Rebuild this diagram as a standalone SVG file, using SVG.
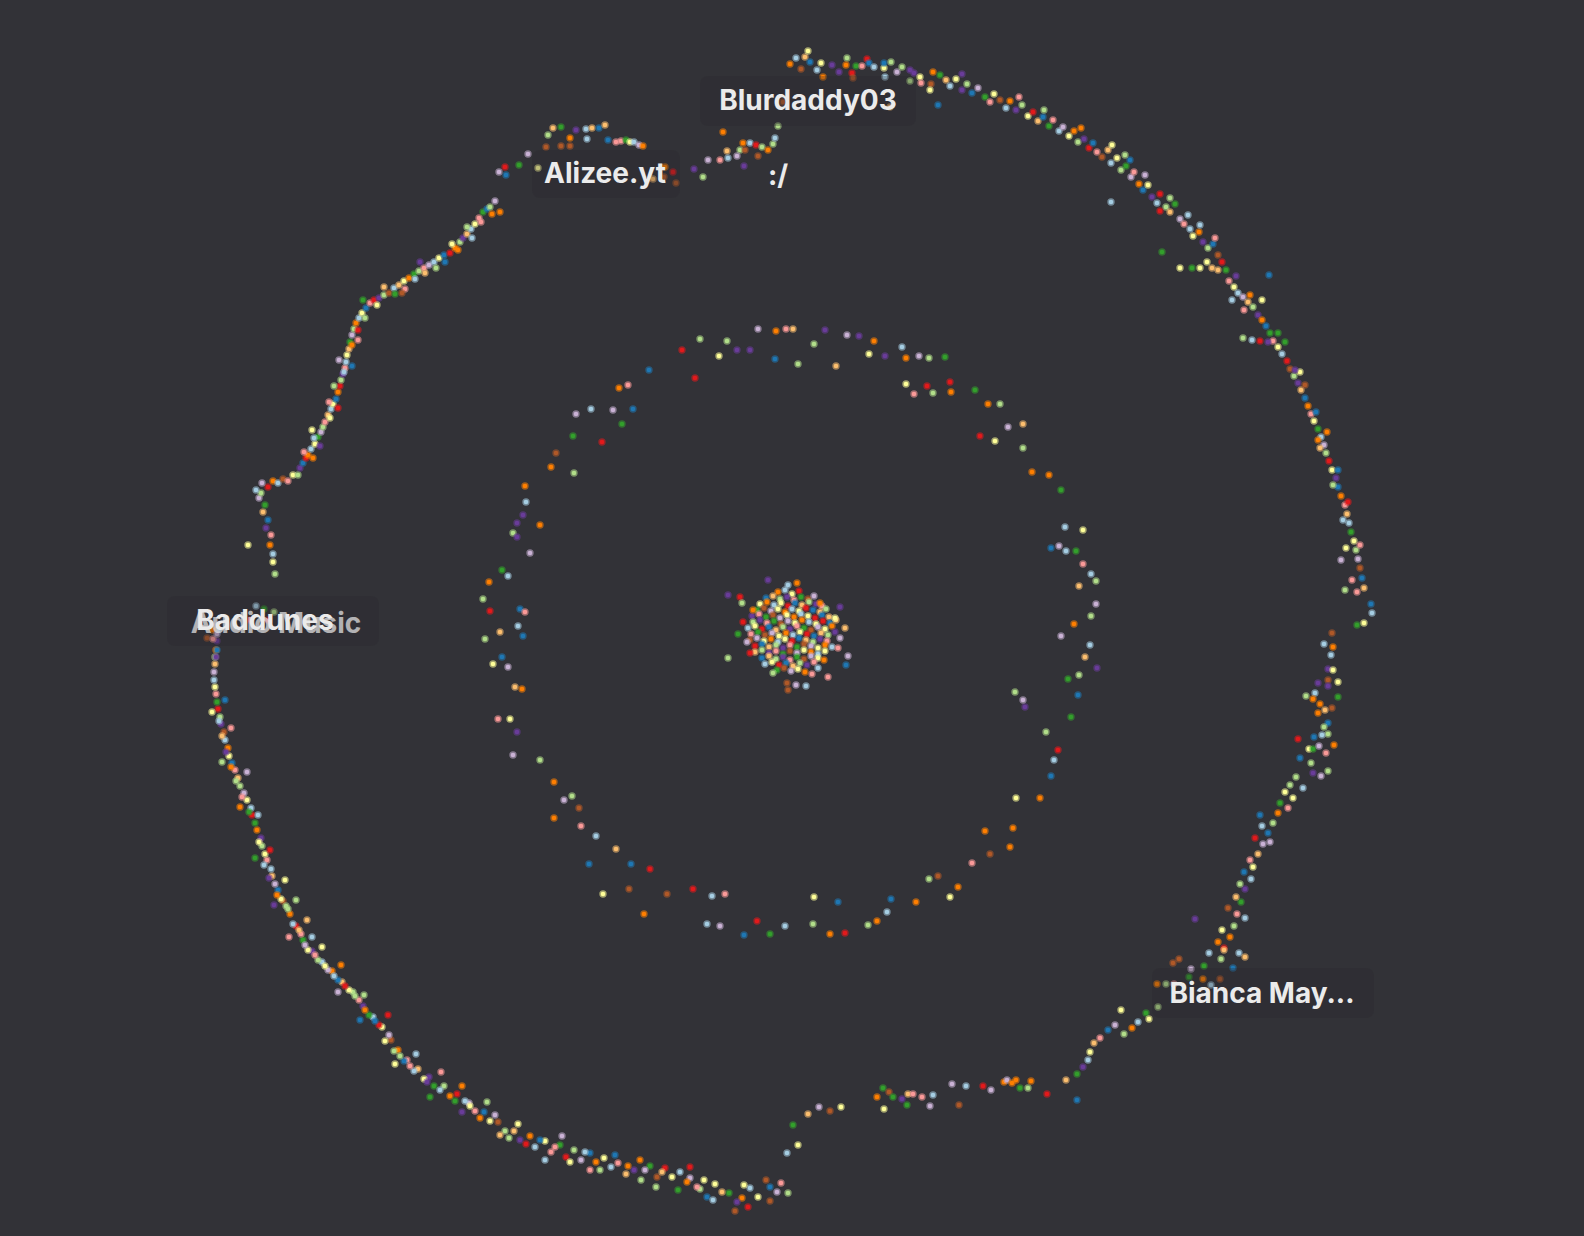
<svg xmlns="http://www.w3.org/2000/svg" width="1584" height="1236" viewBox="0 0 1584 1236">
<style>
circle{r:2.3px;stroke-width:2.8;stroke-opacity:.55}
.a{fill:#a6cee3;stroke:#a6cee3}.b{fill:#1f78b4;stroke:#1f78b4}.c{fill:#b2df8a;stroke:#b2df8a}.d{fill:#33a02c;stroke:#33a02c}
.e{fill:#fb9a99;stroke:#fb9a99}.f{fill:#e31a1c;stroke:#e31a1c}.g{fill:#fdbf6f;stroke:#fdbf6f}.h{fill:#ff7f00;stroke:#ff7f00}
.i{fill:#cab2d6;stroke:#cab2d6}.j{fill:#6a3d9a;stroke:#6a3d9a}.k{fill:#ffff99;stroke:#ffff99}.l{fill:#b15928;stroke:#b15928}
.lb{fill:#2a292e;opacity:.3}
text{font-family:Inter,"Liberation Sans",sans-serif;font-weight:700;font-size:28px;fill:#ebebeb;text-anchor:middle}
</style>
<rect width="1584" height="1236" fill="#323237"/>
<g id="connectors"/>
<g id="outer-ring">
<circle class="h" cx="790" cy="64"/><circle class="a" cx="796" cy="58"/><circle class="g" cx="805" cy="57"/><circle class="k" cx="808" cy="51"/><circle class="b" cx="810" cy="62"/><circle class="k" cx="821" cy="63"/><circle class="h" cx="823" cy="77"/><circle class="j" cx="832" cy="65"/><circle class="j" cx="839" cy="72"/><circle class="c" cx="847" cy="58"/><circle class="h" cx="846" cy="65"/><circle class="f" cx="852" cy="73"/><circle class="l" cx="853" cy="78"/><circle class="d" cx="856" cy="66"/><circle class="e" cx="862" cy="66"/><circle class="f" cx="867" cy="59"/><circle class="b" cx="869" cy="63"/><circle class="a" cx="874" cy="67"/><circle class="k" cx="884" cy="68"/><circle class="b" cx="884" cy="63"/><circle class="a" cx="885" cy="77"/><circle class="c" cx="891" cy="62"/><circle class="i" cx="897" cy="72"/><circle class="c" cx="902" cy="67"/><circle class="j" cx="910" cy="70"/><circle class="c" cx="910" cy="81"/><circle class="j" cx="914" cy="73"/><circle class="k" cx="920" cy="77"/><circle class="e" cx="921" cy="83"/><circle class="l" cx="931" cy="84"/><circle class="h" cx="933" cy="72"/><circle class="d" cx="940" cy="75"/><circle class="g" cx="946" cy="80"/><circle class="a" cx="950" cy="86"/><circle class="k" cx="956" cy="79"/><circle class="j" cx="962" cy="90"/><circle class="c" cx="967" cy="84"/><circle class="b" cx="972" cy="93"/><circle class="i" cx="978" cy="88"/><circle class="d" cx="985" cy="97"/><circle class="e" cx="990" cy="102"/><circle class="k" cx="994" cy="94"/><circle class="l" cx="1000" cy="100"/><circle class="a" cx="1006" cy="108"/><circle class="h" cx="1010" cy="101"/><circle class="j" cx="1016" cy="110"/><circle class="c" cx="1022" cy="105"/><circle class="k" cx="1028" cy="116"/><circle class="f" cx="1033" cy="112"/><circle class="g" cx="1038" cy="121"/><circle class="b" cx="1043" cy="117"/><circle class="d" cx="1049" cy="126"/><circle class="e" cx="1053" cy="120"/><circle class="a" cx="1059" cy="131"/><circle class="i" cx="1063" cy="127"/><circle class="k" cx="1069" cy="136"/><circle class="h" cx="1074" cy="131"/><circle class="c" cx="1078" cy="142"/><circle class="j" cx="1084" cy="139"/><circle class="f" cx="1089" cy="148"/><circle class="b" cx="1093" cy="143"/><circle class="e" cx="1097" cy="152"/><circle class="l" cx="1102" cy="157"/><circle class="g" cx="1108" cy="150"/><circle class="a" cx="1111" cy="163"/><circle class="k" cx="1117" cy="158"/><circle class="c" cx="1121" cy="170"/><circle class="d" cx="1126" cy="166"/><circle class="i" cx="1131" cy="177"/><circle class="e" cx="1134" cy="172"/><circle class="h" cx="1139" cy="184"/><circle class="b" cx="1143" cy="190"/><circle class="k" cx="1148" cy="185"/><circle class="j" cx="1152" cy="197"/><circle class="a" cx="1157" cy="203"/><circle class="f" cx="1160" cy="194"/><circle class="c" cx="1166" cy="207"/><circle class="g" cx="1170" cy="212"/><circle class="d" cx="1175" cy="204"/><circle class="i" cx="1180" cy="219"/><circle class="e" cx="1184" cy="224"/><circle class="a" cx="1190" cy="229"/><circle class="k" cx="1193" cy="236"/><circle class="h" cx="1199" cy="232"/><circle class="j" cx="1203" cy="242"/><circle class="c" cx="1208" cy="248"/><circle class="b" cx="1213" cy="244"/><circle class="l" cx="1218" cy="255"/><circle class="f" cx="1222" cy="262"/><circle class="d" cx="1226" cy="270"/><circle class="e" cx="1229" cy="281"/><circle class="k" cx="1234" cy="287"/><circle class="a" cx="1238" cy="293"/><circle class="i" cx="1243" cy="297"/><circle class="g" cx="1248" cy="302"/><circle class="c" cx="1253" cy="307"/><circle class="j" cx="1258" cy="315"/><circle class="h" cx="1262" cy="320"/><circle class="b" cx="1266" cy="326"/><circle class="d" cx="1270" cy="333"/><circle class="e" cx="1273" cy="341"/><circle class="k" cx="1278" cy="347"/><circle class="a" cx="1282" cy="354"/><circle class="f" cx="1287" cy="361"/><circle class="l" cx="1290" cy="369"/><circle class="c" cx="1294" cy="376"/><circle class="j" cx="1298" cy="383"/><circle class="g" cx="1301" cy="390"/><circle class="b" cx="1305" cy="398"/><circle class="h" cx="1308" cy="406"/><circle class="e" cx="1311" cy="414"/><circle class="k" cx="1314" cy="421"/><circle class="d" cx="1318" cy="429"/><circle class="a" cx="1321" cy="437"/><circle class="i" cx="1324" cy="445"/><circle class="c" cx="1326" cy="453"/><circle class="f" cx="1329" cy="461"/><circle class="k" cx="1332" cy="470"/><circle class="j" cx="1336" cy="478"/><circle class="b" cx="1338" cy="487"/><circle class="h" cx="1341" cy="496"/><circle class="e" cx="1345" cy="505"/><circle class="g" cx="1347" cy="514"/><circle class="a" cx="1349" cy="523"/><circle class="d" cx="1351" cy="532"/><circle class="k" cx="1354" cy="541"/><circle class="c" cx="1356" cy="550"/><circle class="i" cx="1358" cy="559"/><circle class="l" cx="1360" cy="568"/><circle class="b" cx="1362" cy="578"/>
<circle class="c" cx="1044" cy="110"/><circle class="k" cx="1112" cy="145"/><circle class="f" cx="1160" cy="211"/><circle class="a" cx="1200" cy="225"/><circle class="e" cx="1215" cy="238"/><circle class="j" cx="1236" cy="276"/><circle class="h" cx="1250" cy="295"/><circle class="d" cx="1285" cy="342"/><circle class="k" cx="1300" cy="372"/><circle class="b" cx="1316" cy="412"/><circle class="g" cx="1320" cy="448"/><circle class="c" cx="1333" cy="485"/><circle class="a" cx="1343" cy="520"/><circle class="k" cx="1346" cy="548"/><circle class="e" cx="1352" cy="580"/><circle class="i" cx="1341" cy="560"/><circle class="f" cx="1348" cy="502"/><circle class="h" cx="1327" cy="432"/><circle class="l" cx="1305" cy="385"/><circle class="d" cx="1278" cy="333"/><circle class="a" cx="1232" cy="300"/><circle class="k" cx="1207" cy="262"/><circle class="c" cx="1170" cy="198"/><circle class="b" cx="1130" cy="160"/><circle class="h" cx="1081" cy="128"/><circle class="e" cx="1019" cy="97"/><circle class="j" cx="962" cy="74"/><circle class="k" cx="930" cy="90"/><circle class="a" cx="817" cy="70"/><circle class="l" cx="801" cy="69"/><circle class="b" cx="938" cy="105"/><circle class="l" cx="783" cy="102"/><circle class="g" cx="890" cy="107"/>
<circle class="c" cx="1125" cy="155"/><circle class="i" cx="1145" cy="175"/><circle class="a" cx="1188" cy="215"/><circle class="g" cx="1218" cy="270"/><circle class="e" cx="1244" cy="310"/><circle class="k" cx="1262" cy="300"/><circle class="j" cx="1295" cy="370"/><circle class="h" cx="1318" cy="440"/><circle class="b" cx="1338" cy="470"/><circle class="e" cx="1360" cy="545"/><circle class="c" cx="1345" cy="590"/>
<circle class="c" cx="1243" cy="338"/><circle class="a" cx="1252" cy="340"/><circle class="f" cx="1260" cy="341"/><circle class="j" cx="1268" cy="342"/><circle class="k" cx="1180" cy="268"/><circle class="d" cx="1192" cy="268"/><circle class="k" cx="1200" cy="268"/><circle class="g" cx="1212" cy="268"/><circle class="a" cx="1111" cy="202"/><circle class="d" cx="1162" cy="252"/><circle class="b" cx="1269" cy="275"/>
<circle class="e" cx="1357" cy="592"/><circle class="g" cx="1364" cy="588"/><circle class="b" cx="1371" cy="604"/><circle class="a" cx="1372" cy="613"/><circle class="d" cx="1357" cy="625"/><circle class="k" cx="1364" cy="623"/><circle class="l" cx="1332" cy="633"/><circle class="a" cx="1324" cy="644"/><circle class="h" cx="1333" cy="647"/><circle class="a" cx="1331" cy="655"/><circle class="j" cx="1328" cy="669"/><circle class="k" cx="1333" cy="670"/><circle class="j" cx="1318" cy="683"/><circle class="l" cx="1328" cy="680"/><circle class="k" cx="1338" cy="682"/><circle class="j" cx="1328" cy="686"/><circle class="a" cx="1315" cy="693"/><circle class="c" cx="1306" cy="696"/><circle class="h" cx="1313" cy="699"/><circle class="h" cx="1320" cy="704"/><circle class="d" cx="1338" cy="697"/><circle class="l" cx="1332" cy="708"/><circle class="g" cx="1325" cy="710"/><circle class="h" cx="1318" cy="713"/><circle class="b" cx="1328" cy="723"/><circle class="c" cx="1324" cy="727"/><circle class="c" cx="1328" cy="734"/><circle class="a" cx="1322" cy="735"/><circle class="b" cx="1314" cy="737"/><circle class="f" cx="1298" cy="739"/><circle class="k" cx="1309" cy="749"/><circle class="d" cx="1313" cy="749"/><circle class="i" cx="1319" cy="746"/><circle class="h" cx="1334" cy="745"/><circle class="e" cx="1326" cy="753"/><circle class="b" cx="1300" cy="758"/><circle class="c" cx="1311" cy="763"/><circle class="j" cx="1313" cy="773"/><circle class="c" cx="1328" cy="771"/><circle class="i" cx="1321" cy="776"/><circle class="c" cx="1296" cy="777"/>
<circle class="a" cx="1303" cy="788"/><circle class="k" cx="1293" cy="798"/><circle class="e" cx="1288" cy="808"/><circle class="h" cx="1278" cy="813"/><circle class="c" cx="1273" cy="823"/><circle class="b" cx="1268" cy="833"/><circle class="i" cx="1263" cy="844"/><circle class="g" cx="1258" cy="854"/><circle class="k" cx="1253" cy="867"/><circle class="a" cx="1251" cy="879"/><circle class="j" cx="1245" cy="889"/><circle class="d" cx="1241" cy="902"/><circle class="e" cx="1237" cy="914"/><circle class="c" cx="1234" cy="926"/><circle class="h" cx="1230" cy="937"/><circle class="f" cx="1224" cy="948"/><circle class="k" cx="1285" cy="792"/><circle class="d" cx="1280" cy="803"/><circle class="a" cx="1262" cy="826"/><circle class="f" cx="1255" cy="838"/><circle class="i" cx="1270" cy="842"/><circle class="e" cx="1250" cy="860"/><circle class="b" cx="1244" cy="872"/><circle class="c" cx="1240" cy="884"/><circle class="g" cx="1236" cy="897"/><circle class="l" cx="1228" cy="908"/><circle class="a" cx="1245" cy="918"/><circle class="k" cx="1222" cy="930"/><circle class="h" cx="1218" cy="942"/><circle class="j" cx="1195" cy="919"/><circle class="b" cx="1260" cy="815"/><circle class="c" cx="1290" cy="785"/>
<circle class="a" cx="1209" cy="953"/><circle class="g" cx="1224" cy="950"/><circle class="a" cx="1239" cy="953"/><circle class="g" cx="1245" cy="957"/><circle class="c" cx="1221" cy="959"/><circle class="l" cx="1179" cy="959"/><circle class="l" cx="1173" cy="963"/><circle class="i" cx="1191" cy="969"/><circle class="d" cx="1204" cy="966"/><circle class="b" cx="1233" cy="968"/><circle class="d" cx="1189" cy="977"/><circle class="h" cx="1203" cy="979"/><circle class="l" cx="1220" cy="979"/><circle class="a" cx="1211" cy="985"/><circle class="h" cx="1157" cy="984"/><circle class="c" cx="1166" cy="984"/><circle class="e" cx="1174" cy="984"/><circle class="c" cx="1158" cy="1007"/><circle class="d" cx="1146" cy="1013"/><circle class="k" cx="1149" cy="1019"/>
<circle class="a" cx="1138" cy="1022"/><circle class="h" cx="1132" cy="1028"/><circle class="c" cx="1124" cy="1034"/><circle class="k" cx="1121" cy="1010"/><circle class="i" cx="1115" cy="1025"/><circle class="b" cx="1108" cy="1030"/><circle class="e" cx="1100" cy="1038"/><circle class="g" cx="1094" cy="1043"/><circle class="k" cx="1090" cy="1052"/><circle class="a" cx="1088" cy="1060"/><circle class="j" cx="1083" cy="1067"/><circle class="d" cx="1077" cy="1074"/><circle class="b" cx="1077" cy="1100"/><circle class="g" cx="1066" cy="1080"/>
<circle class="d" cx="793" cy="1125"/><circle class="k" cx="798" cy="1145"/><circle class="a" cx="787" cy="1153"/><circle class="g" cx="808" cy="1114"/><circle class="i" cx="819" cy="1107"/><circle class="l" cx="830" cy="1111"/><circle class="k" cx="841" cy="1107"/><circle class="h" cx="877" cy="1097"/><circle class="d" cx="883" cy="1088"/><circle class="l" cx="889" cy="1092"/><circle class="d" cx="893" cy="1097"/><circle class="k" cx="884" cy="1109"/><circle class="j" cx="902" cy="1099"/><circle class="d" cx="907" cy="1105"/><circle class="g" cx="908" cy="1094"/><circle class="e" cx="913" cy="1094"/><circle class="e" cx="922" cy="1097"/><circle class="i" cx="930" cy="1106"/><circle class="a" cx="933" cy="1095"/><circle class="i" cx="952" cy="1084"/><circle class="a" cx="966" cy="1086"/><circle class="l" cx="959" cy="1105"/><circle class="f" cx="983" cy="1086"/><circle class="i" cx="991" cy="1090"/><circle class="h" cx="1004" cy="1082"/><circle class="i" cx="1007" cy="1080"/><circle class="h" cx="1012" cy="1083"/><circle class="h" cx="1016" cy="1080"/><circle class="d" cx="1020" cy="1088"/><circle class="c" cx="1028" cy="1088"/><circle class="h" cx="1031" cy="1081"/><circle class="f" cx="1047" cy="1094"/>
<circle class="b" cx="770" cy="1187"/><circle class="i" cx="777" cy="1192"/><circle class="c" cx="788" cy="1193"/><circle class="l" cx="770" cy="1201"/>
<circle class="e" cx="781" cy="1183"/><circle class="l" cx="766" cy="1180"/><circle class="k" cx="758" cy="1197"/><circle class="a" cx="750" cy="1188"/><circle class="f" cx="748" cy="1207"/><circle class="h" cx="742" cy="1198"/><circle class="j" cx="737" cy="1202"/><circle class="d" cx="729" cy="1193"/><circle class="g" cx="722" cy="1192"/><circle class="k" cx="715" cy="1184"/><circle class="b" cx="707" cy="1197"/><circle class="c" cx="700" cy="1189"/><circle class="e" cx="697" cy="1187"/><circle class="i" cx="690" cy="1178"/><circle class="h" cx="687" cy="1182"/><circle class="a" cx="680" cy="1172"/><circle class="k" cx="672" cy="1177"/><circle class="f" cx="665" cy="1168"/><circle class="l" cx="657" cy="1177"/><circle class="d" cx="650" cy="1166"/><circle class="c" cx="641" cy="1180"/><circle class="j" cx="634" cy="1170"/><circle class="g" cx="626" cy="1174"/><circle class="e" cx="618" cy="1163"/><circle class="a" cx="611" cy="1167"/><circle class="k" cx="604" cy="1158"/><circle class="h" cx="596" cy="1162"/><circle class="b" cx="590" cy="1153"/><circle class="i" cx="581" cy="1160"/><circle class="c" cx="574" cy="1150"/><circle class="f" cx="566" cy="1157"/><circle class="d" cx="560" cy="1145"/><circle class="e" cx="551" cy="1152"/><circle class="k" cx="545" cy="1141"/><circle class="a" cx="535" cy="1147"/><circle class="h" cx="530" cy="1136"/><circle class="j" cx="520" cy="1140"/><circle class="g" cx="514" cy="1131"/><circle class="c" cx="505" cy="1131"/><circle class="l" cx="498" cy="1122"/><circle class="k" cx="490" cy="1121"/><circle class="b" cx="484" cy="1112"/><circle class="e" cx="475" cy="1111"/><circle class="i" cx="469" cy="1103"/><circle class="a" cx="465" cy="1101"/><circle class="f" cx="457" cy="1094"/><circle class="h" cx="450" cy="1096"/><circle class="c" cx="444" cy="1086"/><circle class="d" cx="434" cy="1086"/><circle class="j" cx="429" cy="1077"/><circle class="k" cx="424" cy="1079"/><circle class="g" cx="418" cy="1069"/><circle class="a" cx="414" cy="1071"/><circle class="e" cx="407" cy="1060"/><circle class="b" cx="404" cy="1061"/><circle class="h" cx="398" cy="1050"/><circle class="c" cx="394" cy="1051"/><circle class="l" cx="391" cy="1040"/><circle class="i" cx="389" cy="1035"/><circle class="k" cx="382" cy="1027"/><circle class="f" cx="379" cy="1025"/><circle class="a" cx="373" cy="1017"/><circle class="d" cx="369" cy="1015"/><circle class="j" cx="363" cy="1006"/><circle class="e" cx="359" cy="1000"/><circle class="c" cx="353" cy="992"/><circle class="k" cx="349" cy="990"/><circle class="g" cx="342" cy="982"/><circle class="b" cx="338" cy="980"/><circle class="h" cx="332" cy="971"/><circle class="i" cx="328" cy="970"/><circle class="a" cx="322" cy="962"/><circle class="c" cx="318" cy="960"/><circle class="j" cx="312" cy="951"/><circle class="k" cx="308" cy="950"/><circle class="d" cx="303" cy="940"/><circle class="e" cx="301" cy="934"/><circle class="f" cx="296" cy="926"/><circle class="a" cx="293" cy="924"/><circle class="h" cx="290" cy="914"/><circle class="c" cx="288" cy="909"/><circle class="l" cx="283" cy="901"/><circle class="k" cx="281" cy="899"/><circle class="b" cx="278" cy="890"/><circle class="i" cx="275" cy="884"/><circle class="g" cx="272" cy="876"/><circle class="a" cx="271" cy="869"/><circle class="e" cx="267" cy="860"/><circle class="k" cx="265" cy="854"/><circle class="c" cx="262" cy="846"/><circle class="j" cx="261" cy="838"/><circle class="h" cx="257" cy="830"/><circle class="d" cx="255" cy="823"/><circle class="f" cx="252" cy="815"/><circle class="a" cx="251" cy="808"/><circle class="k" cx="247" cy="800"/><circle class="i" cx="244" cy="793"/><circle class="c" cx="240" cy="786"/><circle class="g" cx="238" cy="778"/><circle class="e" cx="235" cy="770"/><circle class="b" cx="232" cy="763"/><circle class="k" cx="229" cy="756"/><circle class="h" cx="228" cy="748"/><circle class="a" cx="225" cy="740"/><circle class="l" cx="224" cy="732"/><circle class="j" cx="221" cy="724"/><circle class="c" cx="220" cy="717"/><circle class="f" cx="218" cy="709"/><circle class="d" cx="217" cy="702"/><circle class="e" cx="216" cy="694"/><circle class="k" cx="215" cy="687"/><circle class="a" cx="214" cy="680"/><circle class="i" cx="214" cy="672"/><circle class="g" cx="215" cy="664"/><circle class="c" cx="215" cy="657"/><circle class="h" cx="216" cy="650"/><circle class="j" cx="217" cy="641"/><circle class="b" cx="218" cy="631"/>
<circle class="k" cx="744" cy="1185"/><circle class="a" cx="713" cy="1200"/><circle class="d" cx="678" cy="1190"/><circle class="g" cx="662" cy="1172"/><circle class="i" cx="645" cy="1170"/><circle class="h" cx="628" cy="1166"/><circle class="c" cx="600" cy="1170"/><circle class="a" cx="585" cy="1152"/><circle class="k" cx="570" cy="1162"/><circle class="e" cx="555" cy="1147"/><circle class="b" cx="540" cy="1140"/><circle class="f" cx="526" cy="1144"/><circle class="c" cx="509" cy="1138"/><circle class="i" cx="495" cy="1115"/><circle class="h" cx="480" cy="1118"/><circle class="k" cx="470" cy="1106"/><circle class="d" cx="455" cy="1101"/><circle class="a" cx="440" cy="1090"/><circle class="j" cx="427" cy="1082"/><circle class="e" cx="410" cy="1066"/><circle class="c" cx="400" cy="1056"/><circle class="k" cx="385" cy="1041"/><circle class="b" cx="375" cy="1021"/><circle class="h" cx="365" cy="1010"/><circle class="c" cx="355" cy="996"/><circle class="f" cx="345" cy="986"/><circle class="a" cx="334" cy="976"/><circle class="k" cx="325" cy="966"/><circle class="e" cx="315" cy="955"/><circle class="i" cx="305" cy="945"/><circle class="g" cx="299" cy="930"/><circle class="c" cx="286" cy="906"/><circle class="h" cx="277" cy="895"/><circle class="j" cx="269" cy="878"/><circle class="a" cx="264" cy="865"/><circle class="k" cx="259" cy="842"/><circle class="d" cx="249" cy="812"/><circle class="e" cx="242" cy="797"/><circle class="c" cx="236" cy="781"/><circle class="h" cx="231" cy="767"/><circle class="j" cx="226" cy="752"/><circle class="g" cx="222" cy="736"/><circle class="a" cx="219" cy="721"/>
<circle class="b" cx="225" cy="700"/><circle class="k" cx="212" cy="712"/><circle class="e" cx="231" cy="728"/><circle class="c" cx="222" cy="762"/><circle class="i" cx="247" cy="772"/><circle class="h" cx="240" cy="807"/><circle class="a" cx="258" cy="815"/><circle class="f" cx="270" cy="850"/><circle class="d" cx="255" cy="858"/><circle class="k" cx="285" cy="880"/><circle class="j" cx="274" cy="905"/><circle class="c" cx="296" cy="900"/><circle class="g" cx="307" cy="920"/><circle class="e" cx="289" cy="937"/><circle class="a" cx="312" cy="937"/><circle class="k" cx="322" cy="947"/><circle class="h" cx="341" cy="965"/><circle class="i" cx="338" cy="992"/><circle class="c" cx="364" cy="995"/><circle class="b" cx="360" cy="1020"/><circle class="f" cx="388" cy="1015"/><circle class="k" cx="395" cy="1064"/><circle class="a" cx="416" cy="1054"/><circle class="d" cx="430" cy="1097"/><circle class="e" cx="441" cy="1072"/><circle class="h" cx="462" cy="1086"/><circle class="j" cx="462" cy="1112"/><circle class="c" cx="487" cy="1102"/><circle class="g" cx="500" cy="1135"/><circle class="k" cx="518" cy="1124"/><circle class="a" cx="545" cy="1160"/><circle class="i" cx="562" cy="1136"/><circle class="e" cx="590" cy="1170"/><circle class="b" cx="615" cy="1155"/><circle class="h" cx="640" cy="1160"/><circle class="c" cx="656" cy="1187"/><circle class="f" cx="690" cy="1167"/><circle class="k" cx="704" cy="1180"/><circle class="l" cx="735" cy="1211"/>
<circle class="h" cx="213" cy="630"/><circle class="l" cx="207" cy="638"/><circle class="e" cx="213" cy="639"/><circle class="i" cx="217" cy="634"/><circle class="b" cx="217" cy="650"/><circle class="j" cx="216" cy="657"/><circle class="a" cx="256" cy="606"/><circle class="d" cx="264" cy="609"/><circle class="c" cx="274" cy="612"/><circle class="f" cx="250" cy="620"/><circle class="f" cx="268" cy="620"/>
<circle class="c" cx="275" cy="574"/><circle class="k" cx="273" cy="562"/><circle class="a" cx="273" cy="554"/><circle class="h" cx="270" cy="545"/><circle class="e" cx="271" cy="535"/><circle class="j" cx="266" cy="528"/><circle class="b" cx="268" cy="520"/><circle class="g" cx="263" cy="512"/><circle class="d" cx="265" cy="505"/><circle class="i" cx="259" cy="498"/><circle class="c" cx="261" cy="493"/><circle class="k" cx="248" cy="545"/><circle class="f" cx="268" cy="487"/><circle class="h" cx="273" cy="481"/><circle class="a" cx="278" cy="483"/><circle class="l" cx="283" cy="479"/><circle class="e" cx="288" cy="481"/><circle class="k" cx="293" cy="475"/><circle class="c" cx="298" cy="475"/><circle class="j" cx="300" cy="468"/><circle class="b" cx="303" cy="463"/><circle class="f" cx="306" cy="458"/><circle class="h" cx="308" cy="455"/><circle class="a" cx="311" cy="449"/><circle class="k" cx="315" cy="444"/><circle class="d" cx="318" cy="437"/><circle class="i" cx="321" cy="432"/><circle class="c" cx="323" cy="427"/><circle class="e" cx="325" cy="422"/><circle class="g" cx="328" cy="415"/><circle class="a" cx="331" cy="409"/><circle class="k" cx="333" cy="404"/><circle class="b" cx="336" cy="399"/><circle class="h" cx="338" cy="392"/><circle class="f" cx="340" cy="386"/><circle class="c" cx="341" cy="380"/><circle class="j" cx="343" cy="374"/><circle class="e" cx="345" cy="368"/><circle class="a" cx="346" cy="362"/><circle class="k" cx="347" cy="355"/><circle class="g" cx="349" cy="349"/><circle class="d" cx="350" cy="342"/><circle class="i" cx="352" cy="335"/><circle class="c" cx="354" cy="329"/><circle class="h" cx="356" cy="323"/><circle class="a" cx="359" cy="318"/><circle class="k" cx="362" cy="313"/><circle class="b" cx="366" cy="308"/><circle class="e" cx="370" cy="303"/><circle class="f" cx="374" cy="300"/><circle class="j" cx="379" cy="298"/><circle class="c" cx="384" cy="295"/><circle class="l" cx="389" cy="293"/><circle class="a" cx="394" cy="288"/><circle class="g" cx="399" cy="285"/><circle class="k" cx="404" cy="281"/><circle class="h" cx="409" cy="278"/><circle class="d" cx="414" cy="274"/><circle class="c" cx="419" cy="271"/><circle class="e" cx="424" cy="268"/><circle class="i" cx="429" cy="265"/><circle class="a" cx="434" cy="262"/><circle class="k" cx="439" cy="258"/><circle class="b" cx="444" cy="255"/><circle class="f" cx="450" cy="253"/><circle class="h" cx="455" cy="248"/><circle class="c" cx="460" cy="242"/><circle class="j" cx="463" cy="238"/><circle class="g" cx="467" cy="234"/><circle class="a" cx="471" cy="229"/><circle class="k" cx="475" cy="224"/><circle class="e" cx="479" cy="218"/><circle class="d" cx="483" cy="212"/><circle class="b" cx="487" cy="209"/><circle class="c" cx="490" cy="207"/><circle class="i" cx="495" cy="201"/><circle class="h" cx="500" cy="212"/>
<circle class="j" cx="320" cy="446"/><circle class="e" cx="329" cy="402"/><circle class="a" cx="344" cy="372"/><circle class="h" cx="352" cy="345"/><circle class="f" cx="358" cy="330"/><circle class="c" cx="365" cy="318"/><circle class="k" cx="377" cy="305"/><circle class="d" cx="395" cy="294"/><circle class="e" cx="405" cy="289"/><circle class="a" cx="415" cy="279"/><circle class="g" cx="425" cy="273"/><circle class="b" cx="445" cy="262"/><circle class="h" cx="458" cy="250"/><circle class="c" cx="467" cy="227"/><circle class="i" cx="262" cy="483"/><circle class="a" cx="256" cy="490"/><circle class="e" cx="304" cy="452"/><circle class="k" cx="312" cy="430"/>
<circle class="k" cx="330" cy="418"/><circle class="a" cx="314" cy="438"/><circle class="h" cx="313" cy="458"/><circle class="c" cx="334" cy="386"/><circle class="f" cx="338" cy="408"/><circle class="i" cx="339" cy="360"/><circle class="e" cx="358" cy="340"/><circle class="b" cx="352" cy="366"/><circle class="d" cx="363" cy="300"/><circle class="g" cx="384" cy="287"/><circle class="l" cx="402" cy="293"/><circle class="j" cx="420" cy="262"/><circle class="c" cx="436" cy="268"/><circle class="k" cx="452" cy="244"/><circle class="a" cx="472" cy="238"/><circle class="e" cx="481" cy="222"/><circle class="h" cx="492" cy="214"/>
<circle class="g" cx="553" cy="128"/><circle class="d" cx="561" cy="127"/><circle class="c" cx="548" cy="135"/><circle class="l" cx="546" cy="147"/><circle class="i" cx="528" cy="154"/><circle class="f" cx="505" cy="167"/><circle class="b" cx="506" cy="175"/><circle class="i" cx="499" cy="172"/><circle class="d" cx="519" cy="165"/><circle class="k" cx="538" cy="168"/><circle class="l" cx="561" cy="146"/><circle class="h" cx="570" cy="138"/><circle class="l" cx="570" cy="146"/><circle class="j" cx="576" cy="130"/><circle class="a" cx="586" cy="129"/><circle class="g" cx="592" cy="128"/><circle class="b" cx="599" cy="128"/><circle class="g" cx="605" cy="125"/><circle class="a" cx="587" cy="139"/><circle class="b" cx="608" cy="140"/><circle class="e" cx="616" cy="142"/><circle class="e" cx="621" cy="141"/><circle class="d" cx="626" cy="140"/><circle class="k" cx="630" cy="142"/><circle class="a" cx="634" cy="142"/><circle class="i" cx="639" cy="145"/><circle class="h" cx="643" cy="146"/>
<circle class="h" cx="723" cy="132"/><circle class="h" cx="743" cy="143"/><circle class="a" cx="750" cy="143"/><circle class="f" cx="756" cy="145"/><circle class="c" cx="762" cy="147"/><circle class="h" cx="768" cy="150"/><circle class="c" cx="773" cy="144"/><circle class="a" cx="775" cy="138"/><circle class="c" cx="778" cy="126"/><circle class="g" cx="727" cy="151"/><circle class="c" cx="740" cy="150"/><circle class="l" cx="745" cy="150"/><circle class="i" cx="737" cy="156"/><circle class="a" cx="728" cy="158"/><circle class="e" cx="720" cy="160"/><circle class="i" cx="708" cy="160"/><circle class="j" cx="694" cy="169"/><circle class="c" cx="703" cy="177"/><circle class="j" cx="744" cy="166"/><circle class="l" cx="758" cy="156"/><circle class="f" cx="673" cy="172"/><circle class="h" cx="665" cy="167"/><circle class="l" cx="676" cy="183"/><circle class="l" cx="664" cy="177"/><circle class="g" cx="653" cy="179"/>
</g>
<g id="inner-ring">
<circle class="i" cx="758" cy="329"/><circle class="h" cx="776" cy="331"/><circle class="e" cx="786" cy="329"/><circle class="g" cx="793" cy="329"/><circle class="c" cx="814" cy="344"/><circle class="j" cx="825" cy="330"/><circle class="i" cx="847" cy="335"/><circle class="j" cx="859" cy="336"/><circle class="k" cx="869" cy="354"/><circle class="h" cx="874" cy="341"/><circle class="j" cx="885" cy="356"/><circle class="a" cx="902" cy="347"/><circle class="h" cx="906" cy="358"/><circle class="i" cx="919" cy="356"/><circle class="c" cx="929" cy="358"/><circle class="d" cx="945" cy="357"/><circle class="g" cx="836" cy="366"/><circle class="c" cx="798" cy="364"/><circle class="b" cx="775" cy="359"/><circle class="j" cx="750" cy="350"/><circle class="j" cx="737" cy="350"/><circle class="c" cx="727" cy="341"/><circle class="k" cx="719" cy="356"/><circle class="c" cx="700" cy="339"/><circle class="f" cx="695" cy="378"/><circle class="f" cx="682" cy="350"/><circle class="b" cx="649" cy="370"/><circle class="e" cx="628" cy="385"/><circle class="h" cx="619" cy="388"/><circle class="i" cx="613" cy="410"/><circle class="b" cx="633" cy="409"/><circle class="a" cx="591" cy="409"/><circle class="i" cx="576" cy="414"/><circle class="d" cx="573" cy="436"/><circle class="c" cx="574" cy="473"/><circle class="h" cx="551" cy="467"/><circle class="l" cx="556" cy="453"/><circle class="f" cx="602" cy="442"/><circle class="d" cx="622" cy="424"/><circle class="h" cx="525" cy="486"/><circle class="a" cx="526" cy="502"/><circle class="j" cx="523" cy="515"/><circle class="j" cx="517" cy="523"/><circle class="c" cx="513" cy="533"/><circle class="h" cx="540" cy="525"/><circle class="j" cx="517" cy="537"/><circle class="i" cx="530" cy="553"/><circle class="d" cx="502" cy="570"/><circle class="a" cx="508" cy="576"/><circle class="h" cx="489" cy="582"/><circle class="c" cx="483" cy="599"/><circle class="f" cx="490" cy="611"/><circle class="c" cx="485" cy="639"/><circle class="k" cx="493" cy="664"/><circle class="b" cx="502" cy="657"/><circle class="g" cx="500" cy="632"/><circle class="i" cx="508" cy="667"/><circle class="b" cx="520" cy="609"/><circle class="e" cx="525" cy="612"/><circle class="a" cx="518" cy="626"/><circle class="b" cx="523" cy="636"/><circle class="g" cx="515" cy="687"/><circle class="h" cx="522" cy="689"/><circle class="e" cx="498" cy="719"/><circle class="k" cx="510" cy="719"/><circle class="j" cx="517" cy="732"/><circle class="i" cx="513" cy="755"/><circle class="c" cx="540" cy="760"/><circle class="h" cx="554" cy="782"/><circle class="i" cx="564" cy="800"/><circle class="c" cx="572" cy="796"/><circle class="l" cx="579" cy="808"/><circle class="h" cx="554" cy="818"/><circle class="e" cx="581" cy="826"/><circle class="a" cx="596" cy="836"/><circle class="b" cx="589" cy="864"/><circle class="g" cx="616" cy="849"/><circle class="b" cx="631" cy="864"/><circle class="f" cx="650" cy="869"/><circle class="k" cx="603" cy="894"/><circle class="l" cx="629" cy="889"/><circle class="h" cx="644" cy="914"/><circle class="l" cx="667" cy="894"/><circle class="f" cx="693" cy="889"/><circle class="a" cx="712" cy="896"/><circle class="e" cx="725" cy="894"/><circle class="a" cx="707" cy="924"/><circle class="i" cx="720" cy="926"/><circle class="b" cx="744" cy="935"/><circle class="f" cx="757" cy="921"/><circle class="d" cx="770" cy="934"/><circle class="a" cx="785" cy="926"/><circle class="k" cx="814" cy="897"/><circle class="c" cx="813" cy="924"/><circle class="h" cx="830" cy="934"/><circle class="b" cx="838" cy="902"/><circle class="f" cx="845" cy="933"/><circle class="c" cx="868" cy="925"/><circle class="a" cx="887" cy="912"/><circle class="h" cx="877" cy="921"/><circle class="b" cx="891" cy="899"/><circle class="h" cx="916" cy="902"/><circle class="c" cx="929" cy="879"/><circle class="l" cx="938" cy="876"/><circle class="k" cx="950" cy="897"/><circle class="h" cx="958" cy="887"/><circle class="e" cx="972" cy="863"/><circle class="h" cx="985" cy="831"/><circle class="l" cx="990" cy="854"/><circle class="h" cx="1010" cy="847"/><circle class="h" cx="1013" cy="828"/><circle class="k" cx="1016" cy="798"/><circle class="h" cx="1040" cy="798"/><circle class="b" cx="1051" cy="776"/><circle class="a" cx="1054" cy="760"/><circle class="f" cx="1058" cy="750"/><circle class="c" cx="1046" cy="732"/><circle class="d" cx="1071" cy="717"/><circle class="b" cx="1078" cy="695"/><circle class="d" cx="1068" cy="679"/><circle class="c" cx="1079" cy="675"/><circle class="g" cx="1085" cy="657"/><circle class="j" cx="1097" cy="668"/><circle class="a" cx="1090" cy="645"/><circle class="i" cx="1061" cy="636"/><circle class="h" cx="1074" cy="624"/><circle class="c" cx="1091" cy="616"/><circle class="i" cx="1096" cy="604"/><circle class="c" cx="1096" cy="581"/><circle class="a" cx="1091" cy="574"/><circle class="g" cx="1079" cy="586"/><circle class="e" cx="1083" cy="564"/><circle class="d" cx="1076" cy="551"/><circle class="a" cx="1066" cy="551"/><circle class="b" cx="1051" cy="548"/><circle class="i" cx="1059" cy="546"/><circle class="a" cx="1065" cy="527"/><circle class="k" cx="1083" cy="530"/><circle class="d" cx="1061" cy="490"/><circle class="h" cx="1049" cy="475"/><circle class="h" cx="1032" cy="472"/><circle class="c" cx="1023" cy="448"/><circle class="g" cx="1023" cy="424"/><circle class="i" cx="1008" cy="427"/><circle class="c" cx="1000" cy="404"/><circle class="k" cx="995" cy="441"/><circle class="f" cx="980" cy="436"/><circle class="h" cx="988" cy="404"/><circle class="d" cx="975" cy="390"/><circle class="f" cx="950" cy="382"/><circle class="h" cx="951" cy="392"/><circle class="c" cx="933" cy="393"/><circle class="f" cx="927" cy="386"/><circle class="e" cx="914" cy="394"/><circle class="k" cx="906" cy="384"/><circle class="c" cx="1015" cy="692"/><circle class="j" cx="1025" cy="707"/><circle class="i" cx="1023" cy="700"/>
</g>
<g id="center-cluster">
<circle class="h" cx="778" cy="592"/><circle class="a" cx="785" cy="590"/><circle class="k" cx="792" cy="594"/><circle class="f" cx="799" cy="591"/>
<circle class="b" cx="766" cy="598"/><circle class="g" cx="773" cy="596"/><circle class="c" cx="780" cy="599"/><circle class="j" cx="787" cy="597"/><circle class="e" cx="794" cy="600"/><circle class="d" cx="801" cy="597"/><circle class="l" cx="808" cy="599"/><circle class="i" cx="814" cy="596"/>
<circle class="k" cx="760" cy="604"/><circle class="h" cx="767" cy="602"/><circle class="a" cx="774" cy="605"/><circle class="k" cx="781" cy="603"/><circle class="f" cx="788" cy="606"/><circle class="b" cx="795" cy="603"/><circle class="g" cx="802" cy="605"/><circle class="c" cx="809" cy="602"/><circle class="j" cx="816" cy="604"/><circle class="e" cx="822" cy="606"/>
<circle class="d" cx="757" cy="610"/><circle class="l" cx="764" cy="608"/><circle class="i" cx="771" cy="611"/><circle class="k" cx="778" cy="609"/><circle class="h" cx="785" cy="612"/><circle class="a" cx="792" cy="609"/><circle class="k" cx="799" cy="611"/><circle class="f" cx="806" cy="608"/><circle class="b" cx="813" cy="610"/><circle class="g" cx="820" cy="612"/><circle class="c" cx="826" cy="609"/>
<circle class="j" cx="752" cy="616"/><circle class="e" cx="759" cy="614"/><circle class="d" cx="766" cy="617"/><circle class="l" cx="773" cy="615"/><circle class="i" cx="780" cy="618"/><circle class="k" cx="787" cy="615"/><circle class="h" cx="794" cy="617"/><circle class="a" cx="801" cy="614"/><circle class="k" cx="808" cy="616"/><circle class="f" cx="815" cy="618"/><circle class="b" cx="822" cy="615"/><circle class="g" cx="829" cy="617"/>
<circle class="c" cx="753" cy="622"/><circle class="j" cx="760" cy="620"/><circle class="e" cx="767" cy="623"/><circle class="d" cx="774" cy="621"/><circle class="l" cx="781" cy="624"/><circle class="i" cx="788" cy="621"/><circle class="k" cx="795" cy="623"/><circle class="h" cx="802" cy="620"/><circle class="a" cx="809" cy="622"/><circle class="k" cx="816" cy="624"/><circle class="f" cx="823" cy="621"/><circle class="b" cx="830" cy="623"/><circle class="g" cx="836" cy="620"/>
<circle class="a" cx="748" cy="628"/><circle class="k" cx="755" cy="626"/><circle class="f" cx="762" cy="629"/><circle class="b" cx="769" cy="627"/><circle class="g" cx="776" cy="630"/><circle class="c" cx="783" cy="627"/><circle class="j" cx="790" cy="629"/><circle class="e" cx="797" cy="626"/><circle class="d" cx="804" cy="628"/><circle class="l" cx="811" cy="630"/><circle class="i" cx="818" cy="627"/><circle class="k" cx="825" cy="629"/><circle class="h" cx="832" cy="626"/>
<circle class="e" cx="751" cy="634"/><circle class="d" cx="758" cy="632"/><circle class="l" cx="765" cy="635"/><circle class="i" cx="772" cy="633"/><circle class="k" cx="779" cy="636"/><circle class="h" cx="786" cy="633"/><circle class="a" cx="793" cy="635"/><circle class="k" cx="800" cy="632"/><circle class="f" cx="807" cy="634"/><circle class="b" cx="814" cy="636"/><circle class="g" cx="821" cy="633"/><circle class="c" cx="828" cy="635"/><circle class="j" cx="835" cy="632"/>
<circle class="l" cx="750" cy="640"/><circle class="i" cx="757" cy="638"/><circle class="k" cx="764" cy="641"/><circle class="h" cx="771" cy="639"/><circle class="a" cx="778" cy="642"/><circle class="k" cx="785" cy="639"/><circle class="f" cx="792" cy="641"/><circle class="b" cx="799" cy="638"/><circle class="g" cx="806" cy="640"/><circle class="c" cx="813" cy="642"/><circle class="j" cx="820" cy="639"/><circle class="e" cx="827" cy="641"/>
<circle class="f" cx="755" cy="646"/><circle class="b" cx="762" cy="644"/><circle class="g" cx="769" cy="647"/><circle class="c" cx="776" cy="645"/><circle class="j" cx="783" cy="648"/><circle class="e" cx="790" cy="645"/><circle class="d" cx="797" cy="647"/><circle class="l" cx="804" cy="644"/><circle class="i" cx="811" cy="646"/><circle class="k" cx="818" cy="648"/><circle class="h" cx="825" cy="645"/><circle class="a" cx="832" cy="647"/>
<circle class="g" cx="755" cy="652"/><circle class="c" cx="762" cy="650"/><circle class="j" cx="769" cy="653"/><circle class="e" cx="776" cy="651"/><circle class="d" cx="783" cy="654"/><circle class="l" cx="790" cy="651"/><circle class="i" cx="797" cy="653"/><circle class="k" cx="804" cy="650"/><circle class="h" cx="811" cy="652"/><circle class="a" cx="818" cy="654"/><circle class="k" cx="825" cy="651"/>
<circle class="b" cx="762" cy="658"/><circle class="g" cx="769" cy="656"/><circle class="c" cx="776" cy="659"/><circle class="j" cx="783" cy="657"/><circle class="e" cx="790" cy="660"/><circle class="d" cx="797" cy="657"/><circle class="l" cx="804" cy="659"/><circle class="i" cx="811" cy="656"/><circle class="k" cx="818" cy="658"/><circle class="h" cx="824" cy="660"/>
<circle class="a" cx="765" cy="664"/><circle class="k" cx="772" cy="662"/><circle class="f" cx="779" cy="665"/><circle class="b" cx="786" cy="663"/><circle class="g" cx="793" cy="666"/><circle class="c" cx="800" cy="663"/><circle class="j" cx="807" cy="665"/><circle class="e" cx="814" cy="662"/>
<circle class="d" cx="777" cy="670"/><circle class="l" cx="784" cy="668"/><circle class="i" cx="791" cy="671"/><circle class="k" cx="798" cy="669"/><circle class="h" cx="805" cy="672"/>
<circle class="j" cx="768" cy="580"/><circle class="a" cx="788" cy="585"/><circle class="h" cx="797" cy="583"/><circle class="j" cx="728" cy="595"/><circle class="f" cx="740" cy="597"/><circle class="c" cx="742" cy="603"/><circle class="f" cx="743" cy="622"/><circle class="d" cx="738" cy="634"/><circle class="c" cx="728" cy="658"/><circle class="i" cx="848" cy="656"/><circle class="b" cx="846" cy="665"/><circle class="a" cx="806" cy="686"/><circle class="i" cx="796" cy="685"/><circle class="l" cx="787" cy="683"/><circle class="l" cx="788" cy="690"/><circle class="e" cx="828" cy="677"/><circle class="j" cx="840" cy="607"/><circle class="k" cx="835" cy="618"/><circle class="i" cx="840" cy="638"/><circle class="h" cx="753" cy="610"/><circle class="i" cx="747" cy="642"/><circle class="f" cx="750" cy="653"/><circle class="c" cx="773" cy="673"/><circle class="h" cx="820" cy="603"/><circle class="e" cx="838" cy="648"/><circle class="g" cx="845" cy="628"/><circle class="a" cx="818" cy="668"/><circle class="e" cx="812" cy="674"/>
</g>
<g id="label-blurdaddy03"><rect class="lb" x="700" y="76" width="216" height="50" rx="8"/><text x="808" y="110">Blurdaddy03</text></g>
<g id="label-alizee"><rect class="lb" x="532" y="150" width="148" height="48" rx="8"/><text x="605" y="183">Alizee.yt</text></g>
<g id="label-colon"><text x="778" y="185">:/</text></g>
<g id="label-music"><rect class="lb" x="167" y="596" width="212" height="50" rx="8"/><text x="276" y="633" opacity=".7">Audio Music</text></g>
<g id="label-baddunes"><text x="265" y="630">Baddunes</text></g>
<g id="label-bianca"><rect class="lb" x="1152" y="968" width="222" height="50" rx="8"/><text x="1262" y="1003">Bianca May...</text></g>
</svg>
